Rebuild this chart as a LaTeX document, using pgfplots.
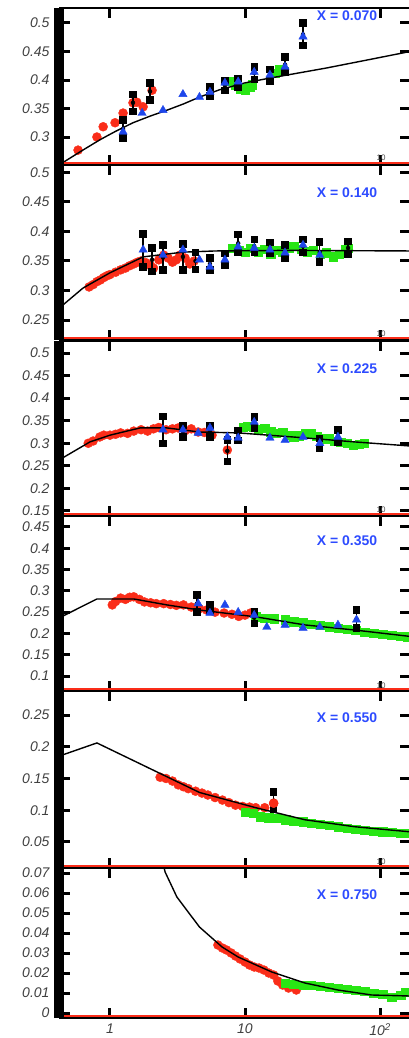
\documentclass[border=0pt]{standalone}
\usepackage{pgfplots}
\pgfplotsset{compat=1.18}
\usepackage{fontspec}
\setmainfont{Liberation Sans}
\definecolor{dred}{RGB}{250,45,25}
\definecolor{dgreen}{RGB}{40,230,20}
\definecolor{dblue}{RGB}{30,70,235}
\definecolor{lblue}{RGB}{45,75,255}
\pgfplotsset{
 myredpt/.style={only marks, color=dred, mark=*, mark size=4.5pt, mark options={solid, draw=dred, fill=dred}},
 mygrnpt/.style={only marks, color=dgreen, mark=square*, mark size=4.2pt, mark options={solid, draw=dgreen, fill=dgreen}},
 myblupt/.style={only marks, color=dblue, mark=triangle*, mark size=4.8pt, mark options={solid, draw=dblue, fill=dblue}},
 mycurve/.style={black, line width=1.4pt, mark=none},
 myerrb/.style={only marks, mark=none, /pgfplots/error bars/y dir=both, /pgfplots/error bars/y explicit, /pgfplots/error bars/error bar style={line width=1.4pt, black}, /pgfplots/error bars/error mark=square*, /pgfplots/error bars/error mark options={black, mark size=3.2pt, line width=0pt}},
}
\newcommand{\deco}{%
 \draw[dred, line width=1.6pt] ([yshift=2.2pt]rel axis cs:0,0) -- ([yshift=2.2pt]rel axis cs:1,0);
 \draw[black, line width=10pt] ([xshift=-1pt]rel axis cs:0,0) -- ([xshift=-1pt]rel axis cs:0,1);
}
\newcommand{\xlab}[1]{\textbf{\fontsize{14}{14}\selectfont X = #1}}
\newcommand{\ylabfmt}{\pgfmathprintnumber[fixed,precision=2,assume math mode=true]{\tick}}
\begin{document}
\begin{tikzpicture}[x=1pt,y=1pt]
\useasboundingbox (0,0) rectangle (409,-1038);
% ---------- panel 1 ----------
\begin{semilogxaxis}[scale only axis, width=350pt, xmin=0.4263, xmax=166.8,
  xtick={1,10,100}, xticklabels={}, xminorticks=false, yminorticks=false,
  anchor=north west, clip mode=individual, scaled y ticks=false,
  axis line style={line width=2.5pt},
  tick style={line width=3pt, black},
  major tick length=10pt,
  ticklabel style={font=\fontsize{14}{14}\selectfont\itshape, text=black!75},
  yticklabel={\ylabfmt}, yticklabel style={xshift=-7pt},
  at={(60pt,-8pt)}, height=157pt, ymin=0.2509, ymax=0.5263, ytick={0.3,0.35,0.4,0.45,0.5}]
\addplot[myredpt] coordinates {(0.58,0.277)(0.8,0.30)(0.89,0.318)(1.09,0.325)(1.25,0.342)(1.48,0.36)(1.58,0.361)(1.76,0.353)(2.05,0.382)};
\addplot[mygrnpt] coordinates {(7.8,0.398)(8.5,0.392)(9.3,0.385)(10,0.383)(10.8,0.388)(11.3,0.392)(16.7,0.412)(18,0.418)(19.5,0.415)};
\addplot[mycurve] coordinates {(0.44,0.254)(0.6,0.274)(0.84,0.295)(1.1,0.31)(1.48,0.325)(2,0.337)(2.64,0.347)(3.5,0.358)(4.6,0.37)(6.5,0.383)(10,0.395)(15,0.403)(20.8,0.409)(40,0.421)(80,0.435)(167,0.45)};
\addplot[myerrb] coordinates {(1.25,0.314)+-(0,0.016) (1.48,0.36)+-(0,0.015) (1.98,0.38)+-(0,0.015) (5.5,0.38)+-(0,0.008) (7.1,0.39)+-(0,0.008) (8.9,0.395)+-(0,0.008) (11.7,0.412)+-(0,0.011) (15.3,0.408)+-(0,0.01) (19.8,0.427)+-(0,0.013) (26.9,0.48)+-(0,0.02)};
\addplot[myblupt] coordinates {(1.25,0.309)(1.73,0.342)(2.47,0.347)(3.47,0.375)(4.6,0.37)(5.5,0.379)(7.1,0.395)(8.9,0.397)(11.7,0.414)(15.3,0.409)(19.8,0.423)(26.9,0.476)};
\deco
\end{semilogxaxis}
\node[text=black!70, font=\fontsize{8}{8}\selectfont] at (381,-158) {10};
% ---------- panel 2 ----------
\begin{semilogxaxis}[scale only axis, width=350pt, xmin=0.4263, xmax=166.8,
  xtick={1,10,100}, xticklabels={}, xminorticks=false, yminorticks=false,
  anchor=north west, clip mode=individual, scaled y ticks=false,
  axis line style={line width=2.5pt},
  tick style={line width=3pt, black},
  major tick length=10pt,
  ticklabel style={font=\fontsize{14}{14}\selectfont\itshape, text=black!75},
  yticklabel={\ylabfmt}, yticklabel style={xshift=-7pt},
  at={(60pt,-165pt)}, height=175pt, ymin=0.2161, ymax=0.5127, ytick={0.25,0.3,0.35,0.4,0.45,0.5}]
\addplot[myredpt] coordinates {(0.7,0.306)(0.75,0.31)(0.8,0.315)(0.85,0.318)(0.9,0.322)(0.95,0.325)(1.0,0.327)(1.1,0.331)(1.2,0.335)(1.3,0.338)(1.4,0.342)(1.5,0.345)(1.6,0.348)(1.7,0.35)(1.85,0.347)(2.0,0.342)(2.1,0.338)(2.3,0.352)(2.5,0.36)(2.7,0.355)(2.9,0.348)(3.1,0.352)(3.3,0.36)(3.6,0.355)(3.9,0.345)(4.2,0.35)};
\addplot[mygrnpt] coordinates {(8,0.372)(9,0.368)(10,0.365)(11,0.372)(12.5,0.366)(14,0.37)(15.5,0.362)(17,0.368)(19,0.365)(21,0.372)(23,0.375)(26,0.37)(29,0.366)(32,0.368)(36,0.362)(40,0.364)(45,0.357)(50,0.362)(55,0.37)(58,0.372)};
\addplot[mycurve] coordinates {(0.43,0.272)(0.63,0.304)(1,0.33)(1.76,0.357)(3.47,0.365)(6,0.367)(20,0.368)(167,0.367)};
\addplot[myerrb] coordinates {(1.76,0.368)+-(0,0.028) (2.05,0.352)+-(0,0.02) (2.47,0.356)+-(0,0.021) (3.47,0.357)+-(0,0.022) (4.3,0.35)+-(0,0.014) (5.5,0.345)+-(0,0.01) (7.1,0.353)+-(0,0.01) (8.9,0.38)+-(0,0.015) (11.7,0.375)+-(0,0.011) (15.3,0.372)+-(0,0.009) (19.8,0.366)+-(0,0.011) (26.9,0.375)+-(0,0.011) (35.8,0.365)+-(0,0.017) (58,0.372)+-(0,0.011)};
\addplot[myblupt] coordinates {(1.76,0.369)(2.47,0.36)(3.47,0.369)(4.6,0.352)(5.5,0.34)(7.1,0.352)(8.9,0.374)(11.7,0.372)(15.3,0.369)(19.8,0.364)(26.9,0.377)(35.8,0.36)};
\deco
\end{semilogxaxis}
\node[text=black!70, font=\fontsize{8}{8}\selectfont] at (381,-334) {10};
% ---------- panel 3 ----------
\begin{semilogxaxis}[scale only axis, width=350pt, xmin=0.4263, xmax=166.8,
  xtick={1,10,100}, xticklabels={}, xminorticks=false, yminorticks=false,
  anchor=north west, clip mode=individual, scaled y ticks=false,
  axis line style={line width=2.5pt},
  tick style={line width=3pt, black},
  major tick length=10pt,
  ticklabel style={font=\fontsize{14}{14}\selectfont\itshape, text=black!75},
  yticklabel={\ylabfmt}, yticklabel style={xshift=-7pt},
  at={(60pt,-341pt)}, height=175pt, ymin=0.1389, ymax=0.5266, ytick={0.15,0.2,0.25,0.3,0.35,0.4,0.45,0.5}]
\addplot[myredpt] coordinates {(0.69,0.30)(0.75,0.305)(0.84,0.314)(0.9,0.318)(1,0.318)(1.1,0.32)(1.2,0.323)(1.35,0.322)(1.5,0.327)(1.7,0.33)(1.9,0.327)(2.1,0.332)(2.3,0.335)(2.6,0.33)(2.9,0.332)(3.2,0.334)(3.6,0.328)(4.0,0.332)(4.5,0.325)(5,0.324)(5.7,0.318)(7.4,0.285)};
\addplot[mygrnpt] coordinates {(9.7,0.336)(10.5,0.338)(11.5,0.335)(12.5,0.33)(14,0.333)(15.5,0.326)(17,0.322)(19,0.324)(21,0.318)(23,0.315)(25,0.317)(28,0.322)(31,0.323)(34,0.316)(38,0.31)(42,0.31)(46,0.305)(51,0.302)(57,0.3)(63,0.296)(70,0.298)(76,0.3)};
\addplot[mycurve] coordinates {(0.43,0.265)(0.46,0.27)(0.71,0.303)(1,0.318)(1.67,0.334)(2.64,0.334)(4.6,0.325)(8.9,0.323)(27.8,0.312)(65,0.303)(167,0.294)};
\addplot[myerrb] coordinates {(2.47,0.33)+-(0,0.03) (3.47,0.327)+-(0,0.013) (5.5,0.327)+-(0,0.013) (7.4,0.283)+-(0,0.024) (8.9,0.317)+-(0,0.011) (11.7,0.346)+-(0,0.012) (35.8,0.30)+-(0,0.011) (48.8,0.316)+-(0,0.013)};
\addplot[myblupt] coordinates {(2.47,0.33)(3.47,0.33)(4.5,0.323)(5.5,0.334)(7.4,0.314)(8.9,0.312)(11.7,0.347)(15.3,0.312)(19.8,0.307)(26.9,0.314)(35.8,0.30)(48.8,0.314)};
\deco
\end{semilogxaxis}
\node[text=black!70, font=\fontsize{8}{8}\selectfont] at (381,-510) {10};
% ---------- panel 4 ----------
\begin{semilogxaxis}[scale only axis, width=350pt, xmin=0.4263, xmax=166.8,
  xtick={1,10,100}, xticklabels={}, xminorticks=false, yminorticks=false,
  anchor=north west, clip mode=individual, scaled y ticks=false,
  axis line style={line width=2.5pt},
  tick style={line width=3pt, black},
  major tick length=10pt,
  ticklabel style={font=\fontsize{14}{14}\selectfont\itshape, text=black!75},
  yticklabel={\ylabfmt}, yticklabel style={xshift=-7pt},
  at={(60pt,-516pt)}, height=175pt, ymin=0.0648, ymax=0.4758, ytick={0.1,0.15,0.2,0.25,0.3,0.35,0.4,0.45}]
\addplot[myredpt] coordinates {(1.04,0.267)(1.1,0.275)(1.2,0.283)(1.3,0.28)(1.4,0.285)(1.5,0.286)(1.65,0.28)(1.8,0.274)(2.0,0.272)(2.2,0.27)(2.5,0.27)(2.8,0.268)(3.1,0.266)(3.5,0.267)(4.0,0.262)(4.6,0.258)(5.2,0.255)(6,0.25)(7,0.248)(8,0.245)(9,0.24)(10,0.243)(11,0.248)};
\addplot[mygrnpt] coordinates {(12,0.239)(14,0.236)(16.5,0.235)(19.8,0.232)(23,0.228)(27,0.225)(31,0.222)(36,0.22)(42,0.216)(49,0.213)(57,0.21)(66,0.208)(77,0.203)(90,0.201)(105,0.198)(122,0.196)(142,0.194)(160,0.192)};
\addplot[mycurve] coordinates {(0.43,0.238)(0.8,0.281)(1.5,0.281)(2.64,0.267)(4.6,0.255)(12,0.239)(27.8,0.22)(65,0.208)(167,0.193)};
\addplot[myerrb] coordinates {(4.4,0.27)+-(0,0.02) (5.5,0.259)+-(0,0.008) (11.7,0.237)+-(0,0.013) (67,0.234)+-(0,0.021)};
\addplot[myblupt] coordinates {(4.5,0.27)(5.5,0.248)(7.1,0.267)(8.9,0.25)(11.7,0.243)(14.5,0.215)(19.8,0.22)(26.9,0.213)(35.8,0.215)(48.8,0.22)(67,0.232)};
\deco
\end{semilogxaxis}
\node[text=black!70, font=\fontsize{8}{8}\selectfont] at (381,-686) {10};
% ---------- panel 5 ----------
\begin{semilogxaxis}[scale only axis, width=350pt, xmin=0.4263, xmax=166.8,
  xtick={1,10,100}, xticklabels={}, xminorticks=false, yminorticks=false,
  anchor=north west, clip mode=individual, scaled y ticks=false,
  axis line style={line width=2.5pt},
  tick style={line width=3pt, black},
  major tick length=10pt,
  ticklabel style={font=\fontsize{14}{14}\selectfont\itshape, text=black!75},
  yticklabel={\ylabfmt}, yticklabel style={xshift=-7pt},
  at={(60pt,-691pt)}, height=177pt, ymin=0.009, ymax=0.2878, ytick={0.05,0.1,0.15,0.2,0.25}]
\addplot[myredpt] coordinates {(2.35,0.152)(2.6,0.15)(2.9,0.146)(3.2,0.14)(3.5,0.137)(3.8,0.134)(4.3,0.13)(4.8,0.127)(5.3,0.124)(6,0.12)(6.8,0.116)(7.6,0.112)(8.5,0.108)(9.6,0.106)(10.8,0.105)(12,0.104)(14,0.104)(16.3,0.111)};
\addplot[mygrnpt] coordinates {(10,0.097)(11.5,0.095)(13,0.09)(15,0.088)(17.5,0.087)(20,0.085)(23,0.083)(27,0.082)(31,0.08)(36,0.078)(42,0.076)(49,0.074)(57,0.072)(66,0.07)(77,0.069)(90,0.067)(105,0.066)(122,0.065)(142,0.064)(160,0.064)};
\addplot[mycurve] coordinates {(0.43,0.186)(0.8,0.206)(4.6,0.128)(12,0.104)(27.8,0.085)(65,0.074)(167,0.066)};
\addplot[myerrb] coordinates {(16.3,0.115)+-(0,0.014)};
\addplot[myredpt] coordinates {(16.3,0.111)};
\deco
\end{semilogxaxis}
\node[text=black!70, font=\fontsize{8}{8}\selectfont] at (381,-862) {10};
% ---------- panel 6 ----------
\begin{semilogxaxis}[scale only axis, width=350pt, xmin=0.4263, xmax=166.8,
  xtick={1,10,100}, xminorticks=false, yminorticks=false,
  anchor=north west, clip mode=individual, scaled y ticks=false,
  axis line style={line width=2.5pt},
  tick style={line width=3pt, black},
  major tick length=10pt,
  ticklabel style={font=\fontsize{14}{14}\selectfont\itshape, text=black!75},
  yticklabel={\ylabfmt}, yticklabel style={xshift=-7pt},
  at={(60pt,-868pt)}, height=150pt, ymin=-0.0025, ymax=0.0725, ytick={0,0.01,0.02,0.03,0.04,0.05,0.06,0.07},
  xticklabels={{1},{10},{10\textsuperscript{2}}}, xticklabel style={yshift=-2pt}]
\addplot[myredpt] coordinates {(6.3,0.034)(6.8,0.0325)(7.3,0.0315)(7.9,0.03)(8.5,0.0285)(9.2,0.027)(10,0.0255)(10.8,0.024)(11.7,0.023)(12.7,0.0225)(13.8,0.0215)(15,0.02)(16.3,0.019)(17.5,0.016)(19,0.014)(21,0.0125)(24,0.0115)};
\addplot[mygrnpt] coordinates {(19.8,0.015)(23,0.0145)(26.9,0.014)(31,0.0138)(36,0.0135)(42,0.013)(49,0.0125)(57,0.012)(66,0.0115)(77,0.011)(90,0.01)(105,0.0095)(122,0.008)(142,0.009)(155,0.0105)};
\addplot[mycurve] coordinates {(2.4,0.078)(2.56,0.0705)(3.13,0.058)(4.6,0.043)(6.77,0.033)(8.9,0.028)(15.8,0.0205)(27.8,0.015)(48.8,0.0115)(87,0.009)(167,0.0085)};
\deco
\end{semilogxaxis}
% ---------- annotations ----------
\node[text=lblue] at (347,-16) {\xlab{0.070}};
\node[text=lblue] at (347,-193) {\xlab{0.140}};
\node[text=lblue] at (347,-369) {\xlab{0.225}};
\node[text=lblue] at (347,-541) {\xlab{0.350}};
\node[text=lblue] at (347,-718) {\xlab{0.550}};
\node[text=lblue] at (347,-895) {\xlab{0.750}};
\end{tikzpicture}
\end{document}
